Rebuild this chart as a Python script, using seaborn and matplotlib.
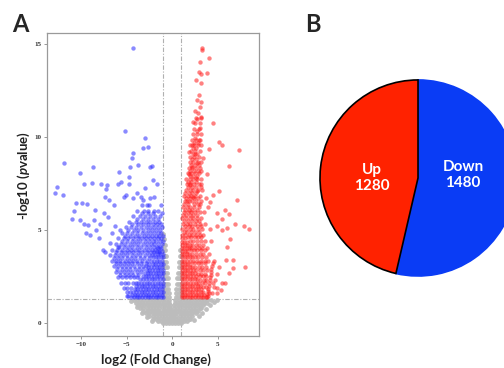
import matplotlib
matplotlib.use("Agg")
import matplotlib.pyplot as plt
import pandas as pd
import seaborn as sns

# volcano points, (log2 fold change, -log10 p)
ns_left = [
    (-4.2, 1.22), (-3.85, 1.22), (-3.5, 1.22), (-3.15, 1.22), (-2.8, 1.22), (-2.45, 1.22),
    (-2.1, 1.22), (-1.75, 1.22), (-1.4, 1.22), (-1.05, 1.22), (-0.7, 1.22), (-0.35, 1.22),
    (-4.0, 1.08), (-3.65, 1.08), (-3.3, 1.08), (-2.95, 1.08), (-2.6, 1.08), (-2.25, 1.08),
    (-1.9, 1.08), (-1.55, 1.08), (-1.2, 1.08), (-0.85, 1.08), (-0.5, 1.08), (-0.3, 1.08),
    (-3.75, 0.94), (-3.4, 0.94), (-3.05, 0.94), (-2.7, 0.94), (-2.35, 0.94), (-2.0, 0.94),
    (-1.65, 0.94), (-1.3, 0.94), (-0.95, 0.94), (-0.6, 0.94), (-0.25, 0.94),
    (-3.5, 0.8), (-3.15, 0.8), (-2.8, 0.8), (-2.45, 0.8), (-2.1, 0.8), (-1.75, 0.8),
    (-1.4, 0.8), (-1.05, 0.8), (-0.7, 0.8), (-0.4, 0.8), (-0.2, 0.8),
    (-3.15, 0.66), (-2.8, 0.66), (-2.45, 0.66), (-2.1, 0.66), (-1.75, 0.66), (-1.4, 0.66),
    (-1.05, 0.66), (-0.7, 0.66), (-0.4, 0.66), (-0.18, 0.66),
    (-2.85, 0.52), (-2.5, 0.52), (-2.15, 0.52), (-1.8, 0.52), (-1.45, 0.52), (-1.1, 0.52),
    (-0.75, 0.52), (-0.45, 0.52), (-0.15, 0.52),
    (-2.5, 0.38), (-2.15, 0.38), (-1.8, 0.38), (-1.45, 0.38), (-1.1, 0.38), (-0.75, 0.38),
    (-0.45, 0.38), (-0.12, 0.38),
    (-2.1, 0.24), (-1.75, 0.24), (-1.4, 0.24), (-1.05, 0.24), (-0.7, 0.24), (-0.4, 0.24), (-0.1, 0.24),
    (-1.6, 0.1), (-1.25, 0.1), (-0.9, 0.1), (-0.55, 0.1), (-0.25, 0.1),
    (-1.0, 0.0), (-0.65, 0.0), (-0.3, 0.0), (0.0, 0.0), (0.3, 0.0), (0.65, 0.0), (1.0, 0.0),
    (-4.55, 1.2), (-3.9, 0.85), (-3.35, 0.55), (-2.8, 0.3), (-2.2, 0.08),
    (-0.95, 1.4), (-0.65, 1.4), (-0.35, 1.4), (-0.95, 1.6), (-0.65, 1.6), (-0.38, 1.6),
    (-0.95, 1.85), (-0.68, 1.85), (-0.42, 1.85), (-0.95, 2.1), (-0.7, 2.1), (-0.45, 2.1),
    (-0.95, 2.4), (-0.72, 2.4), (-0.5, 2.4), (-0.95, 2.7), (-0.75, 2.7), (-0.55, 2.7),
    (-0.95, 3.0), (-0.78, 3.0), (-0.6, 3.0), (-0.95, 3.3), (-0.65, 3.3), (-0.95, 3.6),
    (-0.7, 3.6), (-0.95, 3.9), (-0.75, 3.9), (-0.95, 4.2), (-0.8, 4.2), (-0.95, 4.5), (-0.97, 4.8),
]
ns_right = [
    (0.35, 1.22), (0.7, 1.22), (1.05, 1.22), (1.4, 1.22), (1.75, 1.22), (2.1, 1.22),
    (2.45, 1.22), (2.8, 1.22), (3.15, 1.22), (3.5, 1.22), (3.85, 1.22), (4.2, 1.22),
    (0.3, 1.08), (0.65, 1.08), (1.0, 1.08), (1.35, 1.08), (1.7, 1.08), (2.05, 1.08),
    (2.4, 1.08), (2.75, 1.08), (3.1, 1.08), (3.45, 1.08), (3.8, 1.08),
    (0.25, 0.94), (0.6, 0.94), (0.95, 0.94), (1.3, 0.94), (1.65, 0.94), (2.0, 0.94),
    (2.35, 0.94), (2.7, 0.94), (3.05, 0.94), (3.4, 0.94),
    (0.22, 0.8), (0.55, 0.8), (0.9, 0.8), (1.25, 0.8), (1.6, 0.8), (1.95, 0.8),
    (2.3, 0.8), (2.65, 0.8), (3.0, 0.8), (3.2, 0.8),
    (0.18, 0.66), (0.5, 0.66), (0.85, 0.66), (1.2, 0.66), (1.55, 0.66), (1.9, 0.66),
    (2.25, 0.66), (2.6, 0.66), (2.85, 0.66),
    (0.15, 0.52), (0.45, 0.52), (0.8, 0.52), (1.15, 0.52), (1.5, 0.52), (1.85, 0.52),
    (2.2, 0.52), (2.55, 0.52),
    (0.12, 0.38), (0.45, 0.38), (0.8, 0.38), (1.15, 0.38), (1.5, 0.38), (1.85, 0.38), (2.2, 0.38),
    (0.1, 0.24), (0.4, 0.24), (0.75, 0.24), (1.1, 0.24), (1.45, 0.24), (1.8, 0.24), (2.0, 0.24),
    (0.25, 0.1), (0.6, 0.1), (0.95, 0.1), (1.3, 0.1), (1.6, 0.1),
    (4.6, 1.15), (4.1, 0.95), (3.75, 0.75), (3.3, 0.55), (2.9, 0.35), (2.4, 0.15), (4.9, 1.25),
    (0.38, 1.4), (0.68, 1.4), (0.97, 1.4), (0.4, 1.6), (0.7, 1.6), (0.97, 1.6),
    (0.45, 1.85), (0.72, 1.85), (0.97, 1.85), (0.5, 2.1), (0.75, 2.1), (0.97, 2.1),
    (0.55, 2.4), (0.78, 2.4), (0.97, 2.4), (0.62, 2.7), (0.82, 2.7), (0.97, 2.7),
    (0.7, 3.0), (0.97, 3.0), (0.75, 3.3), (0.97, 3.3), (0.82, 3.6), (0.97, 3.6), (0.9, 3.9),
]
down_core = [
    (-4.5, 1.38), (-4.2, 1.38), (-3.9, 1.38), (-3.6, 1.38), (-3.3, 1.38), (-3.0, 1.38), (-2.7, 1.38),
    (-2.4, 1.38), (-2.1, 1.38), (-1.8, 1.38), (-1.5, 1.38), (-1.2, 1.38), (-1.02, 1.38),
    (-4.4, 1.52), (-4.1, 1.52), (-3.8, 1.52), (-3.5, 1.52), (-3.2, 1.52), (-2.9, 1.52), (-2.6, 1.52),
    (-2.3, 1.52), (-2.0, 1.52), (-1.7, 1.52), (-1.4, 1.52), (-1.1, 1.52),
    (-4.3, 1.68), (-3.95, 1.68), (-3.65, 1.68), (-3.35, 1.68), (-3.05, 1.68), (-2.75, 1.68),
    (-2.45, 1.68), (-2.15, 1.68), (-1.85, 1.68), (-1.55, 1.68), (-1.25, 1.68), (-1.02, 1.68),
    (-4.1, 1.84), (-3.8, 1.84), (-3.5, 1.84), (-3.2, 1.84), (-2.9, 1.84), (-2.6, 1.84),
    (-2.3, 1.84), (-2.0, 1.84), (-1.7, 1.84), (-1.4, 1.84), (-1.1, 1.84),
    (-4.0, 2.0), (-3.65, 2.0), (-3.35, 2.0), (-3.05, 2.0), (-2.75, 2.0), (-2.45, 2.0),
    (-2.15, 2.0), (-1.85, 2.0), (-1.55, 2.0), (-1.25, 2.0), (-1.02, 2.0),
    (-3.7, 2.17), (-3.4, 2.17), (-3.1, 2.17), (-2.8, 2.17), (-2.5, 2.17), (-2.2, 2.17),
    (-1.9, 2.17), (-1.6, 2.17), (-1.3, 2.17), (-1.05, 2.17),
    (-3.5, 2.34), (-3.15, 2.34), (-2.85, 2.34), (-2.55, 2.34), (-2.25, 2.34), (-1.95, 2.34),
    (-1.65, 2.34), (-1.35, 2.34), (-1.05, 2.34),
    (-3.2, 2.51), (-2.9, 2.51), (-2.6, 2.51), (-2.3, 2.51), (-2.0, 2.51), (-1.7, 2.51),
    (-1.4, 2.51), (-1.1, 2.51),
    (-3.0, 2.68), (-2.7, 2.68), (-2.4, 2.68), (-2.1, 2.68), (-1.8, 2.68), (-1.5, 2.68),
    (-1.2, 2.68), (-1.02, 2.68),
    (-2.8, 2.85), (-2.5, 2.85), (-2.2, 2.85), (-1.9, 2.85), (-1.6, 2.85), (-1.3, 2.85), (-1.05, 2.85),
    (-2.6, 3.02), (-2.3, 3.02), (-2.0, 3.02), (-1.7, 3.02), (-1.4, 3.02), (-1.1, 3.02),
    (-2.5, 3.19), (-2.15, 3.19), (-1.85, 3.19), (-1.55, 3.19), (-1.25, 3.19), (-1.02, 3.19),
    (-2.3, 3.36), (-2.0, 3.36), (-1.7, 3.36), (-1.4, 3.36), (-1.1, 3.36),
    (-2.1, 3.53), (-1.8, 3.53), (-1.5, 3.53), (-1.2, 3.53), (-1.02, 3.53),
    (-1.9, 3.7), (-1.6, 3.7), (-1.3, 3.7), (-1.05, 3.7),
    (-1.7, 3.87), (-1.4, 3.87), (-1.1, 3.87), (-1.5, 4.04), (-1.2, 4.04),
]
down_mid = [
    (-5.0, 1.45), (-4.8, 1.45), (-4.95, 1.65), (-4.65, 1.65), (-5.3, 1.9), (-4.9, 1.9), (-4.5, 1.9),
    (-5.6, 2.15), (-5.2, 2.15), (-4.8, 2.15), (-4.3, 2.15), (-3.95, 2.15),
    (-5.9, 2.45), (-5.5, 2.45), (-5.05, 2.45), (-4.6, 2.45), (-4.15, 2.45), (-3.8, 2.45),
    (-6.2, 2.75), (-5.75, 2.75), (-5.3, 2.75), (-4.85, 2.75), (-4.4, 2.75), (-3.9, 2.75), (-3.45, 2.75),
    (-6.4, 3.05), (-5.95, 3.05), (-5.5, 3.05), (-5.05, 3.05), (-4.6, 3.05), (-4.15, 3.05),
    (-3.65, 3.05), (-3.15, 3.05), (-2.85, 3.05),
    (-6.6, 3.35), (-6.15, 3.35), (-5.7, 3.35), (-5.2, 3.35), (-4.75, 3.35), (-4.3, 3.35),
    (-3.8, 3.35), (-3.3, 3.35), (-2.75, 3.35),
    (-6.8, 3.65), (-6.3, 3.65), (-5.85, 3.65), (-5.35, 3.65), (-4.9, 3.65), (-4.45, 3.65),
    (-3.95, 3.65), (-3.5, 3.65), (-3.0, 3.65), (-2.5, 3.65), (-2.2, 3.65),
    (-6.6, 3.95), (-6.05, 3.95), (-5.5, 3.95), (-5.0, 3.95), (-4.55, 3.95), (-4.05, 3.95),
    (-3.6, 3.95), (-3.1, 3.95), (-2.6, 3.95), (-2.2, 3.95), (-1.85, 3.95),
    (-6.2, 4.25), (-5.65, 4.25), (-5.15, 4.25), (-4.6, 4.25), (-4.15, 4.25), (-3.7, 4.25),
    (-3.2, 4.25), (-2.75, 4.25), (-2.35, 4.25), (-1.95, 4.25), (-1.55, 4.25), (-1.1, 4.25),
    (-5.9, 4.55), (-5.3, 4.55), (-4.8, 4.55), (-4.25, 4.55), (-3.75, 4.55), (-3.3, 4.55),
    (-2.85, 4.55), (-2.4, 4.55), (-1.95, 4.55), (-1.55, 4.55), (-1.2, 4.55),
    (-5.5, 4.85), (-4.95, 4.85), (-4.4, 4.85), (-3.9, 4.85), (-3.35, 4.85), (-2.9, 4.85),
    (-2.45, 4.85), (-2.0, 4.85), (-1.6, 4.85), (-1.2, 4.85),
    (-5.1, 5.15), (-4.5, 5.15), (-3.95, 5.15), (-3.4, 5.15), (-2.9, 5.15), (-2.4, 5.15),
    (-1.95, 5.15), (-1.5, 5.15), (-1.1, 5.15),
    (-4.7, 5.45), (-4.0, 5.45), (-3.45, 5.45), (-2.9, 5.45), (-2.4, 5.45), (-1.9, 5.45), (-1.4, 5.45),
    (-4.3, 5.75), (-3.5, 5.75), (-2.95, 5.75), (-2.45, 5.75), (-1.9, 5.75), (-1.3, 5.75),
    (-3.8, 6.05), (-3.1, 6.05), (-2.6, 6.05), (-2.0, 6.05), (-1.5, 6.05),
    (-3.3, 6.35), (-2.5, 6.35), (-1.2, 6.35),
]
down_fill = [
    (-5.7, 2.6), (-5.2, 2.6), (-4.75, 2.6), (-4.3, 2.6), (-3.7, 2.6),
    (-6.0, 2.9), (-5.5, 2.9), (-5.05, 2.9), (-4.6, 2.9), (-4.1, 2.9), (-3.6, 2.9), (-3.2, 2.9),
    (-6.2, 3.2), (-5.75, 3.2), (-5.3, 3.2), (-4.85, 3.2), (-4.35, 3.2), (-3.9, 3.2), (-3.4, 3.2),
    (-2.9, 3.2),
    (-6.35, 3.5), (-5.9, 3.5), (-5.45, 3.5), (-4.95, 3.5), (-4.5, 3.5), (-4.05, 3.5), (-3.55, 3.5),
    (-3.05, 3.5), (-2.55, 3.5),
    (-6.1, 3.8), (-5.6, 3.8), (-5.15, 3.8), (-4.7, 3.8), (-4.25, 3.8), (-3.75, 3.8), (-3.3, 3.8),
    (-2.8, 3.8), (-2.35, 3.8), (-1.95, 3.8), (-1.4, 3.8),
    (-5.8, 4.1), (-5.3, 4.1), (-4.8, 4.1), (-4.35, 4.1), (-3.9, 4.1), (-3.4, 4.1), (-2.9, 4.1),
    (-2.45, 4.1), (-2.0, 4.1), (-1.7, 4.1), (-1.3, 4.1),
    (-5.45, 4.4), (-4.95, 4.4), (-4.4, 4.4), (-3.95, 4.4), (-3.5, 4.4), (-3.0, 4.4), (-2.55, 4.4),
    (-2.15, 4.4), (-1.75, 4.4), (-1.35, 4.4), (-1.05, 4.4),
    (-5.2, 4.7), (-4.65, 4.7), (-4.1, 4.7), (-3.6, 4.7), (-3.1, 4.7), (-2.65, 4.7), (-2.2, 4.7),
    (-1.8, 4.7), (-1.4, 4.7), (-1.05, 4.7),
    (-4.8, 5.0), (-4.2, 5.0), (-3.7, 5.0), (-3.15, 5.0), (-2.65, 5.0), (-2.2, 5.0), (-1.75, 5.0),
    (-1.3, 5.0),
    (-4.35, 5.3), (-3.7, 5.3), (-3.15, 5.3), (-2.65, 5.3), (-2.15, 5.3), (-1.65, 5.3), (-1.2, 5.3),
    (-3.8, 5.6), (-3.2, 5.6), (-2.7, 5.6), (-2.1, 5.6), (-1.6, 5.6),
    (-3.3, 5.9), (-2.7, 5.9), (-2.1, 5.9), (-1.1, 5.9),
]
down_sparse = [
    (-4.3, 14.77), (-5.2, 10.34), (-2.93, 9.96), (-2.7, 9.48), (-3.2, 9.39), (-4.3, 9.12),
    (-4.4, 8.9), (-4.6, 8.4), (-3.7, 8.5), (-11.8, 8.59), (-8.7, 8.4), (-10.1, 8.05),
    (-5.8, 8.1), (-4.7, 7.85), (-2.4, 8.38), (-2.2, 8.45), (-12.6, 7.3), (-12.8, 7.0),
    (-12.0, 6.9), (-9.7, 7.5), (-8.8, 7.55), (-7.8, 7.5), (-7.1, 7.4), (-7.2, 7.2),
    (-5.9, 7.45), (-5.6, 7.6), (-4.7, 7.5), (-3.0, 7.25), (-1.7, 7.45), (-2.1, 7.7),
    (-10.5, 6.47), (-10.8, 6.0), (-9.9, 6.45), (-9.3, 6.4), (-8.5, 6.1), (-7.4, 6.8),
    (-6.9, 6.6), (-6.4, 6.35), (-5.3, 6.8), (-5.1, 6.9), (-4.3, 6.7), (-3.9, 7.0),
    (-3.4, 6.8), (-3.2, 6.6), (-2.8, 6.35), (-2.4, 6.7), (-2.0, 6.8), (-11.0, 5.6),
    (-10.1, 5.55), (-9.7, 5.35), (-9.2, 5.25), (-8.6, 5.55), (-9.4, 4.82), (-9.0, 4.75),
    (-8.3, 5.0), (-7.9, 5.35), (-7.5, 5.9), (-7.0, 5.7), (-8.0, 4.55), (-7.6, 3.9),
    (-7.4, 3.8), (-6.8, 4.3), (-6.6, 4.85), (-6.3, 5.2), (-5.7, 5.0), (-5.9, 4.1),
]
up_core = [
    (1.02, 1.38), (1.3, 1.38), (1.6, 1.38), (1.9, 1.38), (2.2, 1.38), (2.5, 1.38), (2.8, 1.38),
    (3.1, 1.38), (3.4, 1.38), (3.65, 1.38),
    (1.05, 1.52), (1.35, 1.52), (1.65, 1.52), (1.95, 1.52), (2.25, 1.52), (2.55, 1.52),
    (2.85, 1.52), (3.15, 1.52), (3.45, 1.52),
    (1.02, 1.68), (1.3, 1.68), (1.6, 1.68), (1.9, 1.68), (2.2, 1.68), (2.5, 1.68), (2.8, 1.68),
    (3.1, 1.68), (3.35, 1.68),
    (1.05, 1.84), (1.35, 1.84), (1.65, 1.84), (1.95, 1.84), (2.25, 1.84), (2.55, 1.84),
    (2.85, 1.84), (3.15, 1.84),
    (1.02, 2.0), (1.3, 2.0), (1.6, 2.0), (1.9, 2.0), (2.2, 2.0), (2.5, 2.0), (2.8, 2.0), (3.05, 2.0),
    (1.05, 2.17), (1.35, 2.17), (1.65, 2.17), (1.95, 2.17), (2.25, 2.17), (2.55, 2.17), (2.85, 2.17),
    (1.02, 2.34), (1.3, 2.34), (1.6, 2.34), (1.9, 2.34), (2.2, 2.34), (2.5, 2.34), (2.75, 2.34),
    (1.05, 2.51), (1.35, 2.51), (1.65, 2.51), (1.95, 2.51), (2.25, 2.51), (2.55, 2.51),
    (1.02, 2.68), (1.3, 2.68), (1.6, 2.68), (1.9, 2.68), (2.2, 2.68), (2.45, 2.68),
    (1.05, 2.85), (1.35, 2.85), (1.65, 2.85), (1.95, 2.85), (2.25, 2.85),
    (1.02, 3.02), (1.3, 3.02), (1.6, 3.02), (1.9, 3.02), (2.15, 3.02),
    (1.05, 3.19), (1.35, 3.19), (1.65, 3.19), (1.95, 3.19),
    (1.02, 3.36), (1.3, 3.36), (1.6, 3.36), (1.9, 3.36),
    (1.05, 3.53), (1.35, 3.53), (1.65, 3.53), (1.95, 3.53),
    (1.02, 3.7), (1.3, 3.7), (1.6, 3.7), (1.85, 3.7),
    (1.05, 3.87), (1.35, 3.87), (1.65, 3.87),
    (1.02, 4.04), (1.3, 4.04), (1.6, 4.04), (1.85, 4.04),
    (1.05, 4.21), (1.35, 4.21), (1.65, 4.21), (1.02, 4.38), (1.3, 4.38), (1.6, 4.38),
    (1.05, 4.55), (1.4, 4.55), (1.1, 4.72), (1.45, 4.72),
    (3.8, 1.4), (3.95, 1.45), (3.85, 1.55), (4.05, 1.6), (3.9, 1.7), (3.95, 1.85), (4.0, 2.0),
    (4.05, 2.15), (4.1, 2.3), (4.15, 2.45), (4.2, 2.6), (4.25, 2.75), (4.3, 2.9), (4.4, 3.05),
    (4.45, 3.2), (4.55, 3.35),
]
up_mid = [
    (4.4, 1.6), (4.9, 1.6), (3.4, 1.95), (3.7, 1.95), (4.6, 1.95),
    (3.05, 2.3), (3.45, 2.3), (3.75, 2.3), (4.7, 2.3), (2.8, 2.65), (3.2, 2.65), (3.6, 2.65), (4.9, 2.65),
    (2.5, 3.0), (2.9, 3.0), (3.3, 3.0), (3.7, 3.0), (5.1, 3.0),
    (2.3, 3.35), (2.7, 3.35), (3.1, 3.35), (3.55, 3.35), (3.9, 3.35),
    (2.2, 3.7), (2.6, 3.7), (3.0, 3.7), (3.4, 3.7), (4.0, 3.7),
    (2.1, 4.05), (2.5, 4.05), (2.9, 4.05), (3.3, 4.05), (3.8, 4.05),
    (1.9, 4.4), (2.3, 4.4), (2.7, 4.4), (3.1, 4.4), (3.6, 4.4), (4.3, 4.4),
    (1.8, 4.75), (2.2, 4.75), (2.6, 4.75), (3.0, 4.75), (3.4, 4.75),
    (1.1, 5.05), (1.5, 5.05), (1.9, 5.05), (2.3, 5.05), (2.8, 5.05), (3.3, 5.05), (4.1, 5.05),
    (1.2, 5.35), (1.6, 5.35), (2.0, 5.35), (2.5, 5.35), (3.0, 5.35), (3.6, 5.35),
    (1.1, 5.65), (1.5, 5.65), (1.9, 5.65), (2.3, 5.65), (2.7, 5.65), (3.2, 5.65),
    (1.3, 5.95), (1.7, 5.95), (2.1, 5.95), (2.5, 5.95), (3.0, 5.95), (3.5, 5.95),
    (1.2, 6.25), (1.6, 6.25), (2.0, 6.25), (2.4, 6.25), (2.9, 6.25), (3.9, 6.25),
    (1.4, 6.55), (1.8, 6.55), (2.2, 6.55), (2.6, 6.55), (3.1, 6.55),
    (1.3, 6.85), (1.7, 6.85), (2.1, 6.85), (2.5, 6.85), (3.0, 6.85),
    (1.5, 7.15), (1.9, 7.15), (2.3, 7.15), (2.8, 7.15), (3.3, 7.15),
    (1.6, 7.45), (2.0, 7.45), (2.4, 7.45), (2.9, 7.45),
    (1.5, 7.75), (1.9, 7.75), (2.3, 7.75), (2.7, 7.75), (3.2, 7.75),
    (1.7, 8.05), (2.1, 8.05), (2.5, 8.05), (2.9, 8.05),
    (1.8, 8.35), (2.2, 8.35), (2.6, 8.35), (3.0, 8.35),
    (1.9, 8.65), (2.3, 8.65), (2.8, 8.65), (3.2, 8.65),
    (2.0, 8.95), (2.4, 8.95), (2.9, 8.95), (2.1, 9.25), (2.5, 9.25), (3.0, 9.25),
    (2.0, 9.55), (2.4, 9.55), (2.8, 9.55), (2.2, 9.85), (2.6, 9.85), (3.0, 9.85),
    (2.3, 10.15), (2.7, 10.15), (3.1, 10.15), (2.4, 10.45), (2.9, 10.45),
    (2.5, 10.75), (3.0, 10.75), (2.6, 11.05), (3.1, 11.05),
]
up_fill = [
    (3.25, 2.15), (3.6, 2.15), (4.5, 2.15), (3.0, 2.5), (3.35, 2.5), (3.7, 2.5),
    (2.6, 2.85), (3.0, 2.85), (3.4, 2.85), (3.8, 2.85), (2.4, 3.2), (2.8, 3.2), (3.2, 3.2), (3.6, 3.2),
    (2.2, 3.55), (2.5, 3.55), (2.85, 3.55), (3.25, 3.55), (3.7, 3.55),
    (2.05, 3.9), (2.4, 3.9), (2.75, 3.9), (3.15, 3.9), (3.6, 3.9),
    (1.9, 4.2), (2.2, 4.2), (2.55, 4.2), (2.95, 4.2), (3.4, 4.2),
    (1.7, 4.6), (2.05, 4.6), (2.45, 4.6), (2.85, 4.6), (3.2, 4.6),
    (1.3, 4.9), (1.65, 4.9), (2.05, 4.9), (2.5, 4.9), (2.95, 4.9),
    (1.4, 5.2), (1.8, 5.2), (2.2, 5.2), (2.7, 5.2), (3.2, 5.2),
    (1.3, 5.5), (1.7, 5.5), (2.15, 5.5), (2.55, 5.5), (2.95, 5.5),
    (1.15, 5.8), (1.5, 5.8), (1.9, 5.8), (2.3, 5.8), (2.75, 5.8),
    (1.4, 6.1), (1.8, 6.1), (2.2, 6.1), (2.7, 6.1), (1.3, 6.4), (1.7, 6.4), (2.4, 6.4), (2.85, 6.4),
    (1.55, 6.7), (2.0, 6.7), (2.35, 6.7), (2.8, 6.7), (1.4, 7.0), (1.8, 7.0), (2.2, 7.0), (2.6, 7.0),
    (1.7, 7.3), (2.15, 7.3), (2.6, 7.3), (3.1, 7.3), (1.7, 7.6), (2.1, 7.6), (2.55, 7.6),
    (1.9, 7.9), (2.3, 7.9), (2.75, 7.9), (1.95, 8.2), (2.4, 8.2), (2.8, 8.2),
    (2.05, 8.5), (2.5, 8.5), (2.95, 8.5), (2.2, 8.8), (2.65, 8.8), (2.3, 9.1), (2.75, 9.1),
    (2.25, 9.4), (2.6, 9.4), (2.4, 9.7), (2.85, 9.7),
]
up_sparse = [
    (3.26, 14.77), (3.3, 14.7), (4.0, 14.23), (3.08, 14.05), (2.9, 13.5), (3.1, 13.4),
    (3.8, 13.45), (2.64, 13.06), (3.1, 12.9), (2.9, 12.26), (2.75, 12.0), (3.2, 11.9),
    (3.0, 11.6), (2.5, 11.4), (2.85, 11.3), (3.1, 11.1), (2.7, 10.95), (2.3, 10.8),
    (4.47, 10.74), (3.0, 10.5), (2.75, 10.3), (2.5, 9.95), (2.9, 9.85), (2.2, 9.6),
    (3.1, 9.55), (5.1, 9.75), (5.4, 9.55), (7.3, 9.3), (4.0, 9.35), (1.8, 9.2),
    (2.5, 9.1), (3.4, 8.9), (2.7, 8.6), (2.2, 8.4), (3.1, 8.2), (3.8, 8.0), (6.2, 8.44),
    (1.8, 8.0), (2.6, 7.8), (3.2, 7.5), (1.9, 7.4), (5.1, 7.1), (4.5, 6.9), (3.7, 6.7),
    (2.7, 7.1), (2.3, 6.8), (1.6, 6.55), (4.1, 6.5), (3.0, 6.4), (7.1, 6.6), (5.8, 6.1),
    (4.9, 5.9), (5.4, 5.6), (6.2, 5.85), (6.9, 5.3), (8.4, 5.04), (7.9, 5.2), (4.9, 5.2),
    (5.4, 5.0), (6.0, 5.1), (6.3, 4.5), (6.0, 4.1), (6.6, 3.39), (5.85, 3.4), (8.0, 3.03),
    (6.7, 2.95), (6.2, 2.7), (5.5, 2.15), (5.8, 2.15), (4.9, 1.9), (5.3, 1.8),
]
x_ticks = [-10, -5, 0, 5]
y_ticks = [0, 5, 10, 15]
fc_cut = 1.0
p_cut = 1.3

# pie of DEG counts
pie_labels = ["Up", "Down"]
pie_counts = [1280, 1480]
pie_colors = ["#ff2200", "#0a3cf5"]


def to_df(pts, grp):
    d = pd.DataFrame(pts, columns=["log2fc", "nlogp"])
    d["group"] = grp
    return d


ns = pd.concat([to_df(ns_left, "ns"), to_df(ns_right, "ns")])
down = pd.concat([to_df(p, "down") for p in (down_core, down_mid, down_fill, down_sparse)])
up = pd.concat([to_df(p, "up") for p in (up_core, up_mid, up_fill, up_sparse)])

sns.set_theme(style="white")
plt.rcParams["font.family"] = ["Lato", "DejaVu Sans"]
plt.rcParams["mathtext.fontset"] = "custom"
plt.rcParams["mathtext.it"] = "Lato:italic:bold"

fig = plt.figure(figsize=(5.04, 3.68), dpi=100)
ax = fig.add_axes([0.0933, 0.087, 0.4206, 0.8234])

dash = (0, (4, 1.5, 1, 1.5))
for xv in (-fc_cut, fc_cut):
    ax.axvline(xv, color="#b0b0b0", lw=0.8, ls=dash, zorder=0.5)
ax.axhline(p_cut, color="#b0b0b0", lw=0.8, ls=dash, zorder=0.5)

sns.scatterplot(data=ns, x="log2fc", y="nlogp", color="#bcbcbc", s=12, alpha=0.95,
                linewidth=0, ax=ax, legend=False)
sns.scatterplot(data=down, x="log2fc", y="nlogp", color="#2a2aff", s=10, alpha=0.55,
                linewidth=0, ax=ax, legend=False)
sns.scatterplot(data=up, x="log2fc", y="nlogp", color="#ff1a1a", s=10, alpha=0.55,
                linewidth=0, ax=ax, legend=False)

ax.set_xlim(-13.7, 9.5)
ax.set_ylim(-0.7, 15.6)
ax.set_xticks(x_ticks)
ax.set_yticks(y_ticks)
ax.tick_params(axis="both", which="both", direction="out", length=2.5, width=0.6,
               color="#888888", pad=1.5, labelsize=5, bottom=True, left=True)
for lab in ax.get_xticklabels() + ax.get_yticklabels():
    lab.set_family(["Liberation Serif"])
    lab.set_fontweight("bold")
    lab.set_color("#333333")
for sp in ax.spines.values():
    sp.set_color("#9a9a9a")
    sp.set_linewidth(0.9)

ax.set_xlabel("log2 (Fold Change)", fontsize=9.5, fontweight="bold", color="#222222")
ax.set_ylabel("-log10 ($\\mathit{p}$value)", fontsize=9.5, fontweight="bold", color="#222222")
ax.xaxis.set_label_coords(0.514, -0.058)
ax.yaxis.set_label_coords(-0.072, 0.53)

# pie, partly outside the right edge as in the original
axp = fig.add_axes([0.631, 0.2446, 0.3968, 0.5435])
wedges, _ = axp.pie(pie_counts, colors=pie_colors, startangle=90, counterclock=True,
                    wedgeprops=dict(edgecolor="black", linewidth=1.2))
wedges[1].set_edgecolor(pie_colors[1])
wedges[1].set_zorder(1)
wedges[0].set_zorder(2)
axp.set_xlim(-1.02, 1.02)
axp.set_ylim(-1.02, 1.02)
axp.set_aspect("equal")
axp.axis("off")
axp.text(-0.47, 0.0, f"{pie_labels[0]}\n{pie_counts[0]}", color="white", fontsize=11,
         fontweight="bold", ha="center", va="center", linespacing=1.25, zorder=3)
axp.text(0.46, 0.03, f"{pie_labels[1]}\n{pie_counts[1]}", color="white", fontsize=11,
         fontweight="bold", ha="center", va="center", linespacing=1.25, zorder=3)

fig.text(12 / 504, 1 - 32 / 368, "A", fontsize=17, fontweight="bold", va="baseline")
fig.text(305 / 504, 1 - 32 / 368, "B", fontsize=17, fontweight="bold", va="baseline")

fig.savefig("out.png", dpi=100)
